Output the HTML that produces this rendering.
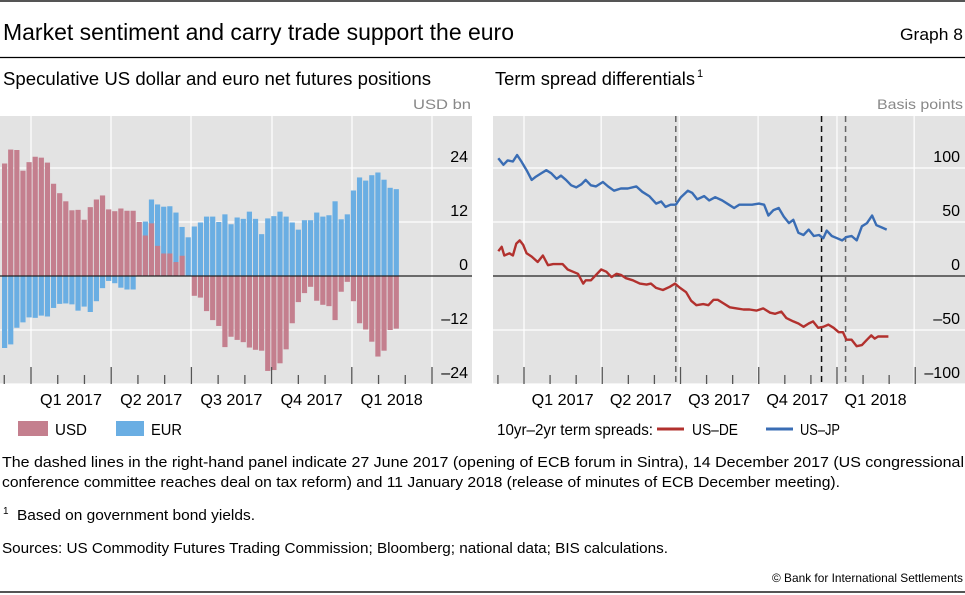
<!DOCTYPE html>
<html><head><meta charset="utf-8"><style>
html,body{margin:0;padding:0;background:#fff;}
svg{display:block;font-family:"Liberation Sans",sans-serif;}
</style></head><body>
<svg id="chart" width="965" height="595" viewBox="0 0 965 595" xmlns="http://www.w3.org/2000/svg">
<line x1="0" y1="1" x2="965" y2="1" stroke="#555" stroke-width="2"/>
<text x="3" y="40" font-size="23" textLength="511" lengthAdjust="spacingAndGlyphs">Market sentiment and carry trade support the euro</text>
<text x="963" y="40" font-size="17" text-anchor="end" textLength="63" lengthAdjust="spacingAndGlyphs">Graph 8</text>
<line x1="0" y1="57.5" x2="965" y2="57.5" stroke="#000" stroke-width="1.2"/>
<text x="3" y="85" font-size="18" textLength="428" lengthAdjust="spacingAndGlyphs">Speculative US dollar and euro net futures positions</text>
<text x="495" y="85" font-size="18" textLength="200" lengthAdjust="spacingAndGlyphs">Term spread differentials</text>
<text x="697" y="77" font-size="11">1</text>
<text x="471" y="109" font-size="14" fill="#888" text-anchor="end" textLength="58" lengthAdjust="spacingAndGlyphs">USD bn</text>
<text x="963" y="109" font-size="14" fill="#888" text-anchor="end" textLength="86" lengthAdjust="spacingAndGlyphs">Basis points</text>
<rect x="0" y="116" width="472" height="268" fill="#e3e3e3"/>
<rect x="493" y="116" width="472" height="268" fill="#e3e3e3"/>
<g id="left"></g>
<g id="right"></g>
<!-- legends -->
<rect x="18" y="421" width="30" height="15" fill="#c47f8e"/>
<text x="55" y="435" font-size="16" textLength="32" lengthAdjust="spacingAndGlyphs">USD</text>
<rect x="116" y="421" width="28" height="15" fill="#6aaee3"/>
<text x="151" y="435" font-size="16" textLength="31" lengthAdjust="spacingAndGlyphs">EUR</text>
<text x="497" y="435" font-size="16" textLength="156" lengthAdjust="spacingAndGlyphs">10yr–2yr term spreads:</text>
<line x1="657" y1="429" x2="684" y2="429" stroke="#b2312e" stroke-width="3"/>
<text x="692" y="435" font-size="16" textLength="46" lengthAdjust="spacingAndGlyphs">US–DE</text>
<line x1="766" y1="429" x2="793" y2="429" stroke="#3a6db4" stroke-width="3"/>
<text x="800" y="435" font-size="16" textLength="40" lengthAdjust="spacingAndGlyphs">US–JP</text>
<!-- notes -->
<text x="2" y="467" font-size="14.5" textLength="962" lengthAdjust="spacingAndGlyphs">The dashed lines in the right-hand panel indicate 27 June 2017 (opening of ECB forum in Sintra), 14 December 2017 (US congressional</text>
<text x="2" y="487" font-size="14.5" textLength="838" lengthAdjust="spacingAndGlyphs">conference committee reaches deal on tax reform) and 11 January 2018 (release of minutes of ECB December meeting).</text>
<text x="3" y="514" font-size="10">1</text>
<text x="17" y="520" font-size="14.5" textLength="238" lengthAdjust="spacingAndGlyphs">Based on government bond yields.</text>
<text x="2" y="553" font-size="14.5" textLength="666" lengthAdjust="spacingAndGlyphs">Sources: US Commodity Futures Trading Commission; Bloomberg; national data; BIS calculations.</text>
<text x="963" y="582" font-size="12" text-anchor="end" textLength="191" lengthAdjust="spacingAndGlyphs">© Bank for International Settlements</text>
<line x1="0" y1="592" x2="965" y2="592" stroke="#555" stroke-width="2"/>
</svg>
<script>
// ---- Left panel data (weekly, USD bn) ----
const usdValues = [25.0,28.1,28.0,23.4,25.3,26.5,26.3,25.2,20.5,18.4,16.6,14.6,14.7,12.5,15.3,17.0,17.9,14.8,14.4,15.0,14.5,14.5,12.0,9.0,11.7,6.7,5.0,5.0,3.1,4.5,0.1,-4.4,-4.8,-7.8,-9.8,-11.1,-15.8,-13.5,-14.2,-14.7,-15.9,-16.4,-16.6,-21.1,-20.9,-19.4,-16.3,-10.5,-5.8,-3.8,-2.4,-5.5,-6.4,-6.7,-9.8,-3.5,-1.3,-5.6,-10.5,-11.9,-14.6,-17.9,-16.6,-12.0,-11.7];
const eurValues = [-16.0,-15.2,-11.5,-10.3,-9.2,-9.3,-8.8,-9.0,-7.1,-6.2,-6.1,-6.3,-7.7,-6.8,-8.0,-5.6,-2.7,-1.1,-1.6,-2.6,-3.0,-3.0,-0.1,12.1,17.0,15.9,15.4,15.5,14.1,10.9,8.6,11.0,11.9,13.2,13.2,12.0,13.7,11.5,13.0,12.7,14.3,12.7,9.3,12.8,13.3,14.3,13.2,11.9,10.3,12.4,12.4,14.1,13.2,13.5,16.6,12.6,13.7,19.0,21.9,21.2,22.4,23.0,21.4,19.6,19.3];
const leftTicks = [24,12,0,-12,-24];
const leftTickLabels = ["24","12","0","–12","–24"];
const quarterLabels = ["Q1 2017","Q2 2017","Q3 2017","Q4 2017","Q1 2018"];
// ---- Right panel data (days since 1 Jan 2017, basis points) ----
const jpDays = [-30,-24,-19,-13,-8,-3,3,9,14,20,26,32,38,43,49,55,61,67,72,78,84,92,98,105,113,121,131,138,146,154,160,165,171,177,183,191,196,202,210,216,223,231,239,245,251,258,266,274,280,285,291,297,303,309,314,320,326,332,338,344,349,353,359,365,371,376,382,388,394,400,406,411,417,423];
const jpValues = [109,103,107,106,112,106,98,89,92,95,98,95,90,93,89,84,82,85,89,84,83,87,83,79,81,81,83,78,74,67,69,64,66,66,73,79,77,71,74,70,73,70,66,63,66,66,66,67,66,56,61,63,55,49,52,40,38,43,37,38,35,42,37,35,33,36,37,33,46,49,56,47,45,43];
const deDays = [-30,-26,-23,-17,-13,-9,-5,-1,3,9,16,22,28,34,40,45,51,57,63,69,72,78,84,90,96,102,108,113,119,127,135,143,148,154,162,170,176,182,189,195,201,209,215,221,226,232,240,248,256,263,271,279,287,293,300,306,314,320,326,332,337,343,349,355,361,367,372,376,382,388,394,400,405,409,413,419,425];
const deValues = [23,27,19,21,19,30,33,29,21,18,13,19,10,11,11,11,6,4,2,-7,-4,-4,1,6,4,-1,2,1,-2,-4,-7,-8,-7,-11,-13,-10,-7,-11,-15,-23,-27,-26,-27,-22,-22,-25,-29,-30,-31,-31,-32,-30,-34,-35,-33,-39,-42,-44,-47,-44,-42,-48,-47,-45,-48,-52,-52,-59,-59,-65,-64,-59,-55,-58,-56,-56,-56];
const rightTicks = [100,50,0,-50,-100];
const rightTickLabels = ["100","50","0","–50","–100"];
const eventDays = [177,347,375];

const NS = "http://www.w3.org/2000/svg";
function mk(tag, attrs, parent){const e=document.createElementNS(NS,tag);for(const k in attrs)e.setAttribute(k,attrs[k]);parent.appendChild(e);return e;}

// ---- Left panel ----
const L = document.getElementById('left');
const yL = v => 276 - v*4.5;
const xL = i => 4.6 + i*6.12;
[31,111,191,272,352,432].forEach(x=>{
  const g=mk('line',{x1:x,y1:116,x2:x,y2:384,stroke:'#fff','stroke-width':1.2},L);
  
  
});
leftTicks.forEach((t,i)=>{
  if(t!==0){const g=mk('line',{x1:0,y1:yL(t),x2:472,y2:yL(t),stroke:'#fff','stroke-width':1.2},L);
  
  }
  const tx=mk('text',{x:468,y:yL(t)-6,'font-size':16,'text-anchor':'end'},L);
  tx.textContent=leftTickLabels[i];
  
  
});
eurValues.forEach((v,i)=>{
  const r=mk('rect',{x:xL(i)-2.6,y:Math.min(yL(v),yL(0)),width:5.2,height:Math.abs(yL(v)-yL(0)),fill:'#6aaee3'},L);
  
  
});
usdValues.forEach((v,i)=>{
  const r=mk('rect',{x:xL(i)-2.6,y:Math.min(yL(v),yL(0)),width:5.2,height:Math.abs(yL(v)-yL(0)),fill:'#c47f8e'},L);
  
  
});
const z1=mk('line',{x1:0,y1:yL(0),x2:472,y2:yL(0),stroke:'#222','stroke-width':1.2},L);


for(let m=-1;m<=15;m++){
  const x=31+m*80.2/3; const major=(m%3===0);
  const t=mk('line',{x1:x,y1:major?367:375,x2:x,y2:384,stroke:'#555','stroke-width':1.3},L);
  
  
}
quarterLabels.forEach((q,i)=>{
  const t=mk('text',{x:71+i*80.2,y:405,'font-size':16,'text-anchor':'middle',textLength:62,lengthAdjust:'spacingAndGlyphs'},L);
  t.textContent=q;
  
  
});

// ---- Right panel ----
const R = document.getElementById('right');
const xR = d => 524 + d*0.8575;
const yR = v => 276 - v*1.08;
[0,90,181,273,365,455].forEach(d=>{
  const g=mk('line',{x1:xR(d),y1:116,x2:xR(d),y2:384,stroke:'#fff','stroke-width':1.2},R);
  
  
});
rightTicks.forEach((t,i)=>{
  if(t!==0){const g=mk('line',{x1:493,y1:yR(t),x2:965,y2:yR(t),stroke:'#fff','stroke-width':1.2},R);
  
  }
  const tx=mk('text',{x:960,y:yR(t)-6,'font-size':16,'text-anchor':'end'},R);
  tx.textContent=rightTickLabels[i];
  
  
});
const z2=mk('line',{x1:493,y1:yR(0),x2:965,y2:yR(0),stroke:'#222','stroke-width':1.2},R);


eventDays.forEach((d,i)=>{
  const l=mk('line',{x1:xR(d),y1:116,x2:xR(d),y2:384,stroke:i===1?'#111':'#666','stroke-width':1.5,'stroke-dasharray':'6,4'},R);
  
  
});
const deLine=mk('polyline',{points:deDays.map((d,i)=>xR(d).toFixed(1)+','+yR(deValues[i]).toFixed(1)).join(' '),fill:'none',stroke:'#b2312e','stroke-width':2.4,'stroke-linejoin':'round'},R);


const jpLine=mk('polyline',{points:jpDays.map((d,i)=>xR(d).toFixed(1)+','+yR(jpValues[i]).toFixed(1)).join(' '),fill:'none',stroke:'#3a6db4','stroke-width':2.4,'stroke-linejoin':'round'},R);


for(let m=-1;m<=15;m++){
  const d=m*365/12; const major=(m%3===0);
  const t=mk('line',{x1:xR(d),y1:major?367:375,x2:xR(d),y2:384,stroke:'#555','stroke-width':1.3},R);
  
  
}
quarterLabels.forEach((q,i)=>{
  const t=mk('text',{x:xR(i*91.25+45),y:405,'font-size':16,'text-anchor':'middle',textLength:62,lengthAdjust:'spacingAndGlyphs'},R);
  t.textContent=q;
  
  
});
</script>
</body></html>
